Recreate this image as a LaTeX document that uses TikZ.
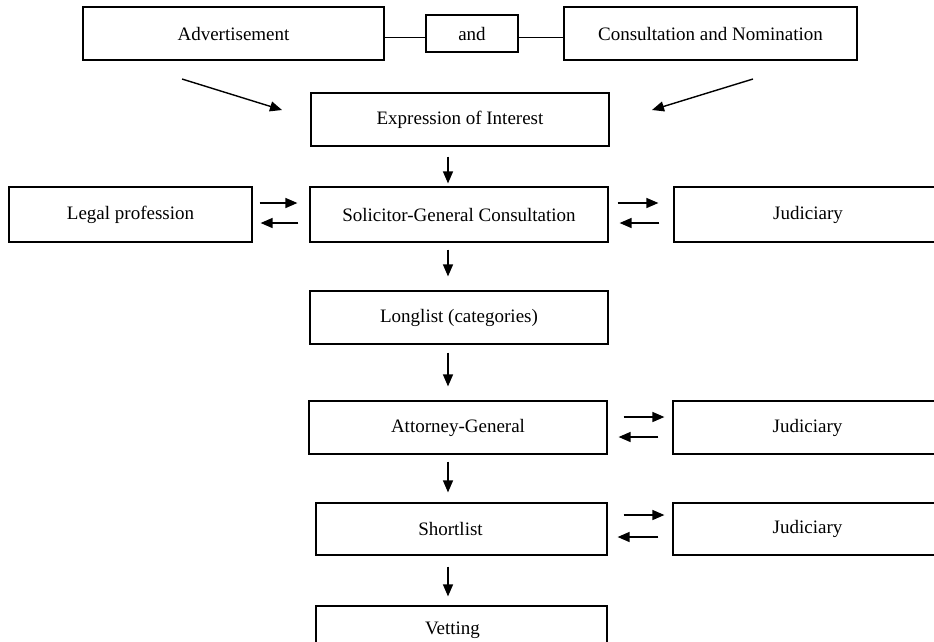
\documentclass[tikz,border=0pt]{standalone}
\usepackage{fontspec}
\setmainfont{Liberation Serif}
\usetikzlibrary{arrows.meta,calc}
\begin{document}
\begin{tikzpicture}[x=1pt,y=-1pt,
  box/.style={draw,line width=1.2pt,rectangle,inner sep=0pt,font=\fontsize{19}{22}\selectfont},
  arr/.style={line width=1.4pt,-{Triangle[length=12pt,width=10pt]}},
  link/.style={line width=1.3pt}]
\useasboundingbox (0,0) rectangle (934,641);
\clip (0,0) rectangle (934,641);
% top row
\node[box,minimum width=301pt,minimum height=53pt] (adv) at (233.5,33.5) {Advertisement};
\node[box,minimum width=92pt,minimum height=37pt] (and) at (472,33.5) {and};
\node[box,minimum width=293pt,minimum height=53pt] (cons) at (710.5,33.5) {Consultation and Nomination};
% main column
\node[box,minimum width=298pt,minimum height=53pt] (expr) at (460,119.5) {Expression of Interest};
\node[box,minimum width=243pt,minimum height=55pt] (legal) at (130.5,214.5) {Legal profession};
\node[box,minimum width=298pt,minimum height=55pt] (sg) at (459,214.5) {Solicitor-General Consultation};
\node[box,minimum width=268pt,minimum height=55pt] (jud1) at (808,214.5) {Judiciary};
\node[box,minimum width=298pt,minimum height=53pt] (long) at (459,317.5) {Longlist (categories)};
\node[box,minimum width=298pt,minimum height=53pt] (ag) at (458,427.5) {Attorney-General};
\node[box,minimum width=269pt,minimum height=53pt] (jud2) at (807.5,427.5) {Judiciary};
\node[box,minimum width=291pt,minimum height=52pt,label={[font=\fontsize{19}{22}\selectfont,xshift=-11pt]center:Shortlist}] (short) at (461.5,529) {};
\node[box,minimum width=269pt,minimum height=52pt] (jud3) at (807.5,529) {Judiciary};
\node[box,minimum width=291pt,minimum height=50pt,label={[font=\fontsize{19}{22}\selectfont,xshift=-9pt,yshift=1pt]center:Vetting}] (vet) at (461.5,631) {};
% top links
\draw[link] ([yshift=-4pt]adv.east) -- ([yshift=-4pt]and.west);
\draw[link] ([yshift=-4pt]and.east) -- ([yshift=-4pt]cons.west);
% diagonal arrows
\coordinate (a1) at (182,79);
\coordinate (a2) at (282,110);
\coordinate (b1) at (753,79);
\coordinate (b2) at (652,110);
\draw[arr] (a1) -- (a2);
\draw[arr] (b1) -- (b2);
% vertical arrows
\coordinate (col) at (448,0);
\draw[arr,shorten <=10pt,shorten >=3pt] (expr.south -| col) -- (sg.north -| col);
\draw[arr,shorten <=7pt,shorten >=14pt] (sg.south -| col) -- (long.north -| col);
\draw[arr,shorten <=8pt,shorten >=14pt] (long.south -| col) -- (ag.north -| col);
\draw[arr,shorten <=7pt,shorten >=10pt] (ag.south -| col) -- (short.north -| col);
\draw[arr,shorten <=11pt,shorten >=9pt] (short.south -| col) -- (vet.north -| col);
% horizontal exchange arrows
\draw[arr,shorten <=7pt,shorten >=12pt] ([yshift=11.5pt]legal.east) -- ([yshift=11.5pt]sg.west);
\draw[arr,shorten <=11pt,shorten >=8pt] ([yshift=-8.5pt]sg.west) -- ([yshift=-8.5pt]legal.east);
\draw[arr,shorten <=9pt,shorten >=15pt] ([yshift=11.5pt]sg.east) -- ([yshift=11.5pt]jud1.west);
\draw[arr,shorten <=14pt,shorten >=11pt] ([yshift=-8.5pt]jud1.west) -- ([yshift=-8.5pt]sg.east);
\draw[arr,shorten <=16pt,shorten >=8pt] ([yshift=10.5pt]ag.east) -- ([yshift=10.5pt]jud2.west);
\draw[arr,shorten <=14pt,shorten >=11pt] ([yshift=-9.5pt]jud2.west) -- ([yshift=-9.5pt]ag.east);
\draw[arr,shorten <=16pt,shorten >=8pt] ([yshift=14pt]short.east) -- ([yshift=14pt]jud3.west);
\draw[arr,shorten <=14pt,shorten >=10pt] ([yshift=-8pt]jud3.west) -- ([yshift=-8pt]short.east);
\end{tikzpicture}
\end{document}
